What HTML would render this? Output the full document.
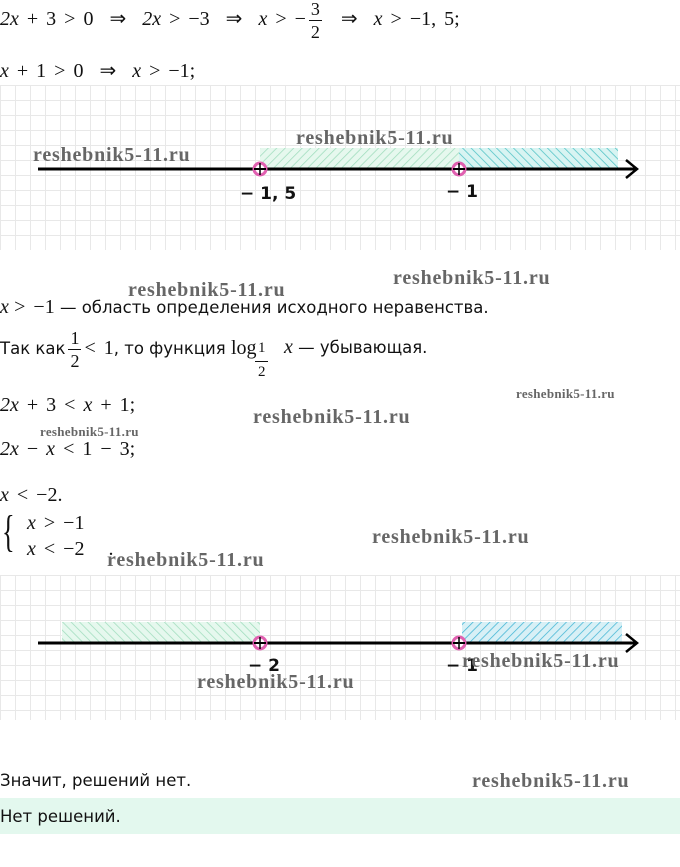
<!DOCTYPE html>
<html><head><meta charset="utf-8"><style>
body{margin:0;width:680px;height:867px;background:#fff;position:relative;overflow:hidden;font-family:"DejaVu Sans","Liberation Sans",sans-serif;color:#111}
.t{position:absolute;white-space:nowrap;font-size:16.5px}
.m{font-family:"Liberation Serif",serif;font-size:20px;word-spacing:3px}
.i{font-style:italic}
.w{position:absolute;white-space:nowrap;font-family:"Liberation Serif",serif;font-weight:bold;color:#666;font-size:20px;letter-spacing:0.8px}
.fr{display:inline-block;vertical-align:middle;text-align:center;font-family:"Liberation Serif",serif;font-size:18px;line-height:22px;margin:0 3px}
.fr span{display:block;padding:0 2px}
.fr span:first-child{border-bottom:1px solid #111}
.grid{position:absolute;left:0;width:680px;background-image:linear-gradient(#e8e8e8 1px,transparent 1px),linear-gradient(90deg,#e8e8e8 1px,transparent 1px);background-size:15px 15px}
</style></head><body>
<div class="t m" style="left:0;top:-2px"><span class="i">2x</span> + 3 &gt; 0 &nbsp;⇒&nbsp; <span class="i">2x</span> &gt; −3 &nbsp;⇒&nbsp; <span class="i">x</span> &gt; −<span class="fr"><span>3</span><span>2</span></span> &nbsp;⇒&nbsp; <span class="i">x</span> &gt; −1, 5;</div>
<div class="t m" style="left:0;top:58px"><span class="i">x</span> + 1 &gt; 0 &nbsp;⇒&nbsp; <span class="i">x</span> &gt; −1;</div>

<div class="grid" style="top:85px;height:165px"></div>
<svg style="position:absolute;left:0;top:0" width="680" height="867">
<defs>
<pattern id="h1" width="6" height="6" patternUnits="userSpaceOnUse" patternTransform="rotate(45)"><rect width="6" height="6" fill="#e6f8ee"/><line x1="0" y1="0" x2="0" y2="6" stroke="#9fdcbc" stroke-width="1.5"/></pattern>
<pattern id="h2" width="6" height="6" patternUnits="userSpaceOnUse" patternTransform="rotate(-45)"><rect width="6" height="6" fill="#d8f4f2"/><line x1="0" y1="0" x2="0" y2="6" stroke="#4cc0c4" stroke-width="1.5"/></pattern>
<pattern id="h3" width="6" height="6" patternUnits="userSpaceOnUse" patternTransform="rotate(-45)"><rect width="6" height="6" fill="#e6f8ee"/><line x1="0" y1="0" x2="0" y2="6" stroke="#9fdcbc" stroke-width="1.5"/></pattern>
<pattern id="h4" width="6" height="6" patternUnits="userSpaceOnUse" patternTransform="rotate(45)"><rect width="6" height="6" fill="#d8f0f6"/><line x1="0" y1="0" x2="0" y2="6" stroke="#40b4d4" stroke-width="1.5"/></pattern>
</defs>
<rect x="260" y="148" width="199" height="21" fill="url(#h1)"/>
<rect x="459" y="148" width="159" height="21" fill="url(#h2)"/>
<line x1="38" y1="169" x2="636" y2="169" stroke="#000" stroke-width="3"/>
<polyline points="626,160 637,169 626,178" fill="none" stroke="#000" stroke-width="2.5"/>
<circle cx="260" cy="169" r="6" fill="#fff" stroke="#e060b0" stroke-width="3"/>
<circle cx="459" cy="169" r="6" fill="#fff" stroke="#e060b0" stroke-width="3"/>
<line x1="260" y1="163" x2="260" y2="175" stroke="#000" stroke-width="1.5"/><line x1="254" y1="169" x2="266" y2="169" stroke="#000" stroke-width="2"/>
<line x1="459" y1="163" x2="459" y2="175" stroke="#000" stroke-width="1.5"/><line x1="453" y1="169" x2="465" y2="169" stroke="#000" stroke-width="2"/>
</svg>
<div class="t" style="left:240px;top:184px;font-size:17px;font-weight:bold">− 1, 5</div>
<div class="t" style="left:446px;top:182px;font-size:17px;font-weight:bold">− 1</div>
<div class="w" style="left:33px;top:144px">reshebnik5-11.ru</div>
<div class="w" style="left:296px;top:127px">reshebnik5-11.ru</div>

<div class="w" style="left:393px;top:267px">reshebnik5-11.ru</div>
<div class="w" style="left:128px;top:279px">reshebnik5-11.ru</div>
<div class="t" style="left:0;top:296px"><span class="m i">x</span> <span class="m">&gt; −1</span> — область определения исходного неравенства.</div>
<div class="t" style="left:0;top:325px;line-height:46px">Так как<span class="fr"><span>1</span><span>2</span></span><span class="m">&lt; 1</span>, то функция <span class="m">log</span></div>
<div class="t m" style="left:258px;top:340px;font-size:15px">1</div>
<div style="position:absolute;left:255px;top:361px;width:13px;height:1px;background:#111"></div>
<div class="t m" style="left:258px;top:364px;font-size:15px">2</div>
<div class="t" style="left:284px;top:336px"><span class="m i">x</span> — убывающая.</div>

<div class="t m" style="left:0;top:394px"><span class="i">2x</span> + 3 &lt; <span class="i">x</span> + 1;</div>
<div class="w" style="left:516px;top:386px;font-size:13px;letter-spacing:0.3px">reshebnik5-11.ru</div>
<div class="w" style="left:253px;top:406px">reshebnik5-11.ru</div>
<div class="w" style="left:40px;top:424px;font-size:13px;letter-spacing:0.3px">reshebnik5-11.ru</div>
<div class="t m" style="left:0;top:438px"><span class="i">2x</span> − <span class="i">x</span> &lt; 1 − 3;</div>
<div class="t m" style="left:0;top:484px"><span class="i">x</span> &lt; −2.</div>
<div class="t m" style="left:2px;top:506px;font-size:44px;line-height:52px;transform:scaleX(0.6);transform-origin:left">{</div>
<div class="t m" style="left:27px;top:512px"><span class="i">x</span> &gt; −1</div>
<div class="t m" style="left:27px;top:538px"><span class="i">x</span> &lt; −2 &nbsp; .</div>
<div class="w" style="left:372px;top:526px">reshebnik5-11.ru</div>
<div class="w" style="left:107px;top:549px">reshebnik5-11.ru</div>

<div class="grid" style="top:575px;height:145px"></div>
<svg style="position:absolute;left:0;top:0" width="680" height="867">
<rect x="62" y="622" width="198" height="21" fill="url(#h3)"/>
<rect x="462" y="622" width="160" height="21" fill="url(#h4)"/>
<line x1="38" y1="643" x2="636" y2="643" stroke="#000" stroke-width="3"/>
<polyline points="626,634 637,643 626,652" fill="none" stroke="#000" stroke-width="2.5"/>
<circle cx="260" cy="643" r="6" fill="#fff" stroke="#e060b0" stroke-width="3"/>
<circle cx="459" cy="643" r="6" fill="#fff" stroke="#e060b0" stroke-width="3"/>
<line x1="260" y1="637" x2="260" y2="649" stroke="#000" stroke-width="1.5"/><line x1="254" y1="643" x2="266" y2="643" stroke="#000" stroke-width="2"/>
<line x1="459" y1="637" x2="459" y2="649" stroke="#000" stroke-width="1.5"/><line x1="453" y1="643" x2="465" y2="643" stroke="#000" stroke-width="2"/>
</svg>
<div class="t" style="left:248px;top:656px;font-size:17px;font-weight:bold">− 2</div>
<div class="t" style="left:446px;top:656px;font-size:17px;font-weight:bold">− 1</div>
<div class="w" style="left:197px;top:671px">reshebnik5-11.ru</div>
<div class="w" style="left:462px;top:650px">reshebnik5-11.ru</div>

<div class="t" style="left:0;top:771px">Значит, решений нет.</div>
<div class="w" style="left:472px;top:770px">reshebnik5-11.ru</div>
<div style="position:absolute;left:0;top:798px;width:680px;height:36px;background:#e3f8ee"></div>
<div class="t" style="left:0;top:807px">Нет решений.</div>
</body></html>
